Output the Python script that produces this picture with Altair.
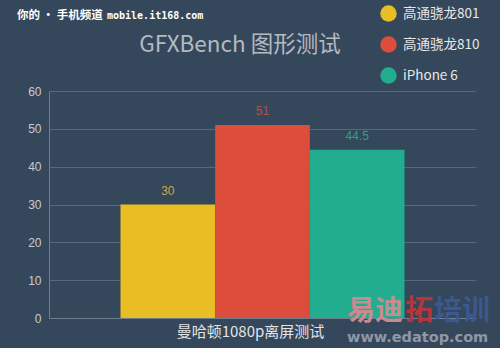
import altair as alt
import pandas as pd

category = "曼哈顿1080p离屏测试"
series = ["高通骁龙801", "高通骁龙810", "iPhone 6"]
values = [30, 51, 44.5]
bar_colors = ["#e9bd24", "#dd4d3b", "#22ae8e"]
label_colors = ["#c9a64e", "#b2534b", "#2f9f86"]
y_ticks = [0, 10, 20, 30, 40, 50, 60]

df = pd.DataFrame({
    "cat": [category] * len(series),
    "series": series,
    "value": values,
    "lc": label_colors,
    "txt": ["30", "51", "44.5"],
})

x_enc = alt.X("cat:N", scale=alt.Scale(paddingInner=0, paddingOuter=0.2518),
              axis=alt.Axis(title=None, labelFontSize=15, labelColor="#e2e4e6",
                            labelFont="Noto Sans CJK SC", ticks=False, domain=True,
                            domainColor="#6f7e8d", labelPadding=6, labelOffset=-12,
                            labelAngle=0, grid=False))
xo_enc = alt.XOffset("series:N", sort=series, scale=alt.Scale(paddingInner=0, paddingOuter=0))
y_enc = alt.Y("value:Q", scale=alt.Scale(domain=[0, 60], nice=False),
              axis=alt.Axis(title=None, values=y_ticks, grid=True, gridColor="#56687a",
                            domain=True, domainColor="#6f7e8d", ticks=False,
                            labelPadding=8, labelFontSize=12, labelColor="#c6ccd2",
                            labelFont="Liberation Sans", labelOverlap=False))

bars = alt.Chart(df).mark_bar().encode(
    x=x_enc, xOffset=xo_enc, y=y_enc,
    color=alt.Color("series:N", scale=alt.Scale(domain=series, range=bar_colors),
                    legend=alt.Legend(title=None, orient="none", legendX=331, legendY=-86,
                                      symbolType="circle", symbolSize=270,
                                      symbolStrokeWidth=0, labelFontSize=13.5,
                                      labelColor="#e6e8ea", labelFont="Noto Sans CJK SC",
                                      rowPadding=14, labelOffset=6)),
)

labels = alt.Chart(df).mark_text(dy=-14, fontSize=12, font="Liberation Sans").encode(
    x=x_enc, xOffset=xo_enc, y=y_enc,
    text="txt:N", color=alt.Color("lc:N", scale=None),
)

def txt(t, x, y, size, color, font, weight="normal", align="left"):
    return alt.Chart(pd.DataFrame({"t": [t]})).mark_text(
        align=align, baseline="middle", fontSize=size, fontWeight=weight,
        font=font, color=color).encode(x=alt.value(x), y=alt.value(y), text="t:N")

title = txt("GFXBench 图形测试", 191, -46, 22.5, "#b3bac2", "Noto Sans CJK SC", align="center")
wm1 = txt("你的 • 手机频道", -32, -75, 11.5, "#ffffff", "Noto Sans CJK SC", "bold")
wm2 = txt("mobile.it168.com", 58, -75, 10, "#ffffff", "DejaVu Sans Mono", "bold")
wm3 = txt("易迪", 298, 221, 28, "#c98b91", "Noto Sans CJK SC", "bold")
wm4 = txt("拓", 356, 221, 28, "#b3363c", "Noto Sans CJK SC", "bold")
wm5 = txt("培训", 385, 221, 28, "#3c5890", "Noto Sans CJK SC", "bold")
wm6 = txt("www.edatop.com", 298, 247, 14.5, "#8f97a8", "DejaVu Sans", "bold")

chart = alt.layer(bars, labels, title, wm1, wm2, wm3, wm4, wm5, wm6).properties(
    width=427, height=227,
    autosize=alt.AutoSizeParams(type="none"),
    padding={"left": 49, "top": 91, "right": 24, "bottom": 30},
    background="#35475a",
).configure_view(stroke=None)

chart.save("out.html", embed_options={"renderer": "svg", "actions": False})
